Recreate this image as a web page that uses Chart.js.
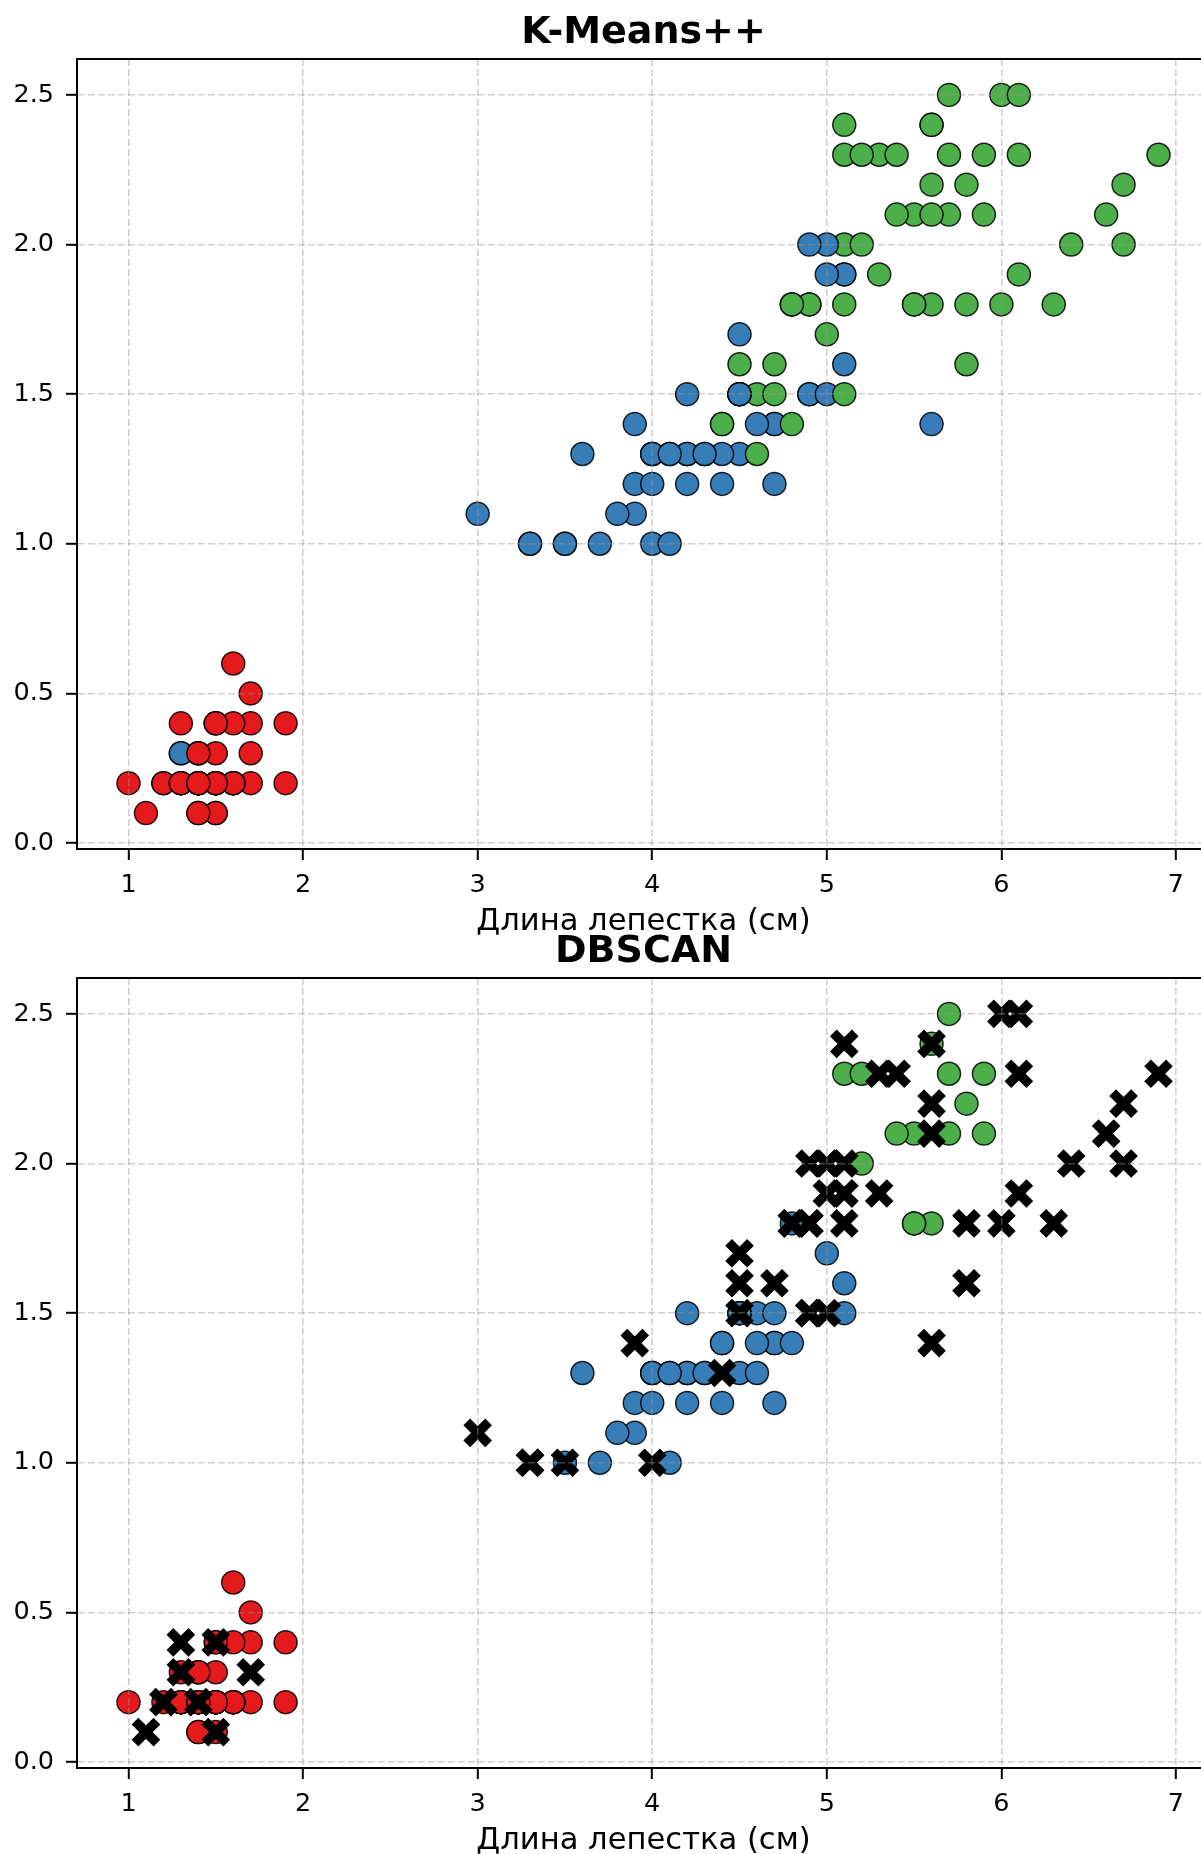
<!DOCTYPE html>
<html>
<head>
<meta charset="utf-8">
<script src="https://cdn.jsdelivr.net/npm/chart.js@4.4.1/dist/chart.umd.min.js"></script>
<style>
    html, body { margin: 0; padding: 0; background: #fff; overflow: hidden; width: 1201px; height: 1854px; }
    .panel { position: absolute; left: 0; width: 1260px; height: 935px; }
</style>
</head>
<body>
<div class="panel" style="top:0"><canvas id="kmeansChart" width="1260" height="935"></canvas></div>
<div class="panel" style="top:919px"><canvas id="dbscanChart" width="1260" height="935"></canvas></div>
<script>
// Iris petal measurements, in sample order
const petalLength = [
    1.4, 1.4, 1.3, 1.5, 1.4, 1.7, 1.4, 1.5, 1.4, 1.5,
    1.5, 1.6, 1.4, 1.1, 1.2, 1.5, 1.3, 1.4, 1.7, 1.5,
    1.7, 1.5, 1.0, 1.7, 1.9, 1.6, 1.6, 1.5, 1.4, 1.6,
    1.6, 1.5, 1.5, 1.4, 1.5, 1.2, 1.3, 1.4, 1.3, 1.5,
    1.3, 1.3, 1.3, 1.6, 1.9, 1.4, 1.6, 1.4, 1.5, 1.4,
    4.7, 4.5, 4.9, 4.0, 4.6, 4.5, 4.7, 3.3, 4.6, 3.9,
    3.5, 4.2, 4.0, 4.7, 3.6, 4.4, 4.5, 4.1, 4.5, 3.9,
    4.8, 4.0, 4.9, 4.7, 4.3, 4.4, 4.8, 5.0, 4.5, 3.5,
    3.8, 3.7, 3.9, 5.1, 4.5, 4.5, 4.7, 4.4, 4.1, 4.0,
    4.4, 4.6, 4.0, 3.3, 4.2, 4.2, 4.2, 4.3, 3.0, 4.1,
    6.0, 5.1, 5.9, 5.6, 5.8, 6.6, 4.5, 6.3, 5.8, 6.1,
    5.1, 5.3, 5.5, 5.0, 5.1, 5.3, 5.5, 6.7, 6.9, 5.0,
    5.7, 4.9, 6.7, 4.9, 5.7, 6.0, 4.8, 4.9, 5.6, 5.8,
    6.1, 6.4, 5.6, 5.1, 5.6, 6.1, 5.6, 5.5, 4.8, 5.4,
    5.6, 5.1, 5.1, 5.9, 5.7, 5.2, 5.0, 5.2, 5.4, 5.1
];
const petalWidth = [
    0.2, 0.2, 0.2, 0.2, 0.2, 0.4, 0.3, 0.2, 0.2, 0.1,
    0.2, 0.2, 0.1, 0.1, 0.2, 0.4, 0.4, 0.3, 0.3, 0.3,
    0.2, 0.4, 0.2, 0.5, 0.2, 0.2, 0.4, 0.2, 0.2, 0.2,
    0.2, 0.4, 0.1, 0.2, 0.2, 0.2, 0.2, 0.1, 0.2, 0.2,
    0.3, 0.3, 0.2, 0.6, 0.4, 0.3, 0.2, 0.2, 0.2, 0.2,
    1.4, 1.5, 1.5, 1.3, 1.5, 1.3, 1.6, 1.0, 1.3, 1.4,
    1.0, 1.5, 1.0, 1.4, 1.3, 1.4, 1.5, 1.0, 1.5, 1.1,
    1.8, 1.3, 1.5, 1.2, 1.3, 1.4, 1.4, 1.7, 1.5, 1.0,
    1.1, 1.0, 1.2, 1.6, 1.5, 1.6, 1.5, 1.3, 1.3, 1.3,
    1.2, 1.4, 1.2, 1.0, 1.3, 1.2, 1.3, 1.3, 1.1, 1.3,
    2.5, 1.9, 2.1, 1.8, 2.2, 2.1, 1.7, 1.8, 1.8, 2.5,
    2.0, 1.9, 2.1, 2.0, 2.4, 2.3, 1.8, 2.2, 2.3, 1.5,
    2.3, 2.0, 2.0, 1.8, 2.1, 1.8, 1.8, 1.8, 2.1, 1.6,
    1.9, 2.0, 2.2, 1.5, 1.4, 2.3, 2.4, 1.8, 1.8, 2.1,
    2.4, 2.3, 1.9, 2.3, 2.5, 2.3, 1.9, 2.0, 2.3, 1.8
];
// cluster ids: 0 red, 1 blue, 2 green, -1 noise
const kmeansLabels = [
    0, 0, 0, 0, 0, 0, 0, 0, 0, 0,
    0, 0, 0, 0, 0, 0, 0, 0, 0, 0,
    0, 0, 0, 0, 0, 0, 0, 0, 0, 0,
    0, 0, 0, 0, 0, 0, 0, 0, 0, 0,
    0, 1, 0, 0, 0, 0, 0, 0, 0, 0,
    1, 1, 1, 1, 2, 1, 2, 1, 2, 1,
    1, 1, 1, 1, 1, 2, 1, 1, 1, 1,
    2, 1, 1, 1, 1, 2, 2, 2, 1, 1,
    1, 1, 1, 1, 1, 2, 2, 1, 1, 1,
    1, 1, 1, 1, 1, 1, 1, 1, 1, 1,
    2, 1, 2, 2, 2, 2, 1, 2, 2, 2,
    2, 2, 2, 1, 2, 2, 2, 2, 2, 1,
    2, 1, 2, 2, 2, 2, 2, 2, 2, 2,
    2, 2, 2, 2, 1, 2, 2, 2, 2, 2,
    2, 2, 1, 2, 2, 2, 1, 2, 2, 2
];
const dbscanLabels = [
    0, 0, 0, 0, 0, 0, 0, 0, 0, 0,
    0, 0, 0, -1, -1, -1, -1, 0, -1, 0,
    0, 0, 0, 0, 0, 0, 0, 0, 0, 0,
    0, 0, -1, -1, 0, 0, 0, 0, 0, 0,
    0, -1, 0, 0, 0, 0, 0, 0, 0, 0,
    1, 1, -1, 1, 1, 1, -1, -1, 1, -1,
    -1, 1, -1, 1, 1, 1, 1, 1, 1, 1,
    1, 1, -1, 1, 1, 1, 1, 1, 1, 1,
    1, 1, 1, 1, -1, -1, 1, -1, 1, 1,
    1, 1, 1, -1, 1, 1, 1, 1, -1, 1,
    -1, -1, 2, 2, 2, -1, -1, -1, -1, -1,
    -1, -1, 2, -1, -1, -1, 2, -1, -1, -1,
    2, -1, -1, -1, 2, -1, -1, -1, -1, -1,
    -1, -1, -1, 1, -1, -1, 2, 2, -1, 2,
    -1, 2, -1, 2, 2, 2, -1, 2, -1, -1
];
const xTickValues = [1, 2, 3, 4, 5, 6, 7];
const yTickValues = [0.0, 0.5, 1.0, 1.5, 2.0, 2.5];
const xAxisTitle = 'Длина лепестка (см)';

const clusterColors = { 0: '#e41a1c', 1: '#377eb8', 2: '#4daf4a' };
const FONT = 'DejaVu Sans';

function pointsFor(labels, keep) {
    const out = [];
    labels.forEach((lab, i) => {
        if (keep(lab)) out.push({ x: petalLength[i], y: petalWidth[i], cluster: lab });
    });
    return out;
}

function clusterDataset(labels) {
    return {
        data: pointsFor(labels, lab => lab >= 0),
        backgroundColor: ctx => clusterColors[ctx.raw.cluster],
        borderColor: 'rgba(0, 0, 0, 0.85)',
        borderWidth: 1.5,
        pointRadius: 11.5,
        pointHoverRadius: 11.5,
        order: 1
    };
}

// axes box: top and right spines (Chart.js only draws the axis lines)
const frame = {
    id: 'frame',
    afterDraw(chart) {
        const { ctx, chartArea: a } = chart;
        ctx.save();
        ctx.strokeStyle = '#000';
        ctx.lineWidth = 2;
        ctx.beginPath();
        ctx.moveTo(a.left, a.top);
        ctx.lineTo(a.right, a.top);
        ctx.lineTo(a.right, a.bottom);
        ctx.stroke();
        ctx.restore();
    }
};

function gridOpts() {
    return {
        color: 'rgba(150, 150, 150, 0.45)',
        lineWidth: 1.6,
        tickLength: 11,
        tickColor: '#000',
        tickWidth: 2,
        tickBorderDash: [],
        z: 1
    };
}

// in v4 border.dash sets the dash of the grid lines
function borderOpts() {
    return { display: true, color: '#000', width: 2, dash: [7, 3], z: 2 };
}

function makeOptions(title) {
    return {
        responsive: false,
        animation: false,
        devicePixelRatio: 1,
        layout: { padding: { left: 0, right: 50, top: 0, bottom: 0 } },
        plugins: {
            legend: { display: false },
            tooltip: { enabled: false },
            title: {
                display: true,
                text: title,
                fullSize: false,
                color: '#000',
                font: { family: FONT, size: 38, weight: 'bold', lineHeight: 1.2 },
                padding: { top: 10, bottom: 3.4 }
            }
        },
        scales: {
            x: {
                type: 'linear',
                position: 'bottom',
                min: 0.705,
                max: 7.195,
                afterBuildTicks: s => { s.ticks = xTickValues.map(v => ({ value: v })); },
                afterFit: s => { s.height = 86; },
                ticks: {
                    color: '#000',
                    padding: 10,
                    font: { family: FONT, size: 25.5 },
                    callback: v => String(v)
                },
                grid: gridOpts(),
                border: borderOpts(),
                title: {
                    display: true,
                    text: xAxisTitle,
                    color: '#000',
                    font: { family: FONT, size: 30.6, lineHeight: 0.8 },
                    padding: { top: 0, bottom: 0.5 }
                }
            },
            y: {
                type: 'linear',
                position: 'left',
                min: -0.02,
                max: 2.62,
                afterBuildTicks: s => { s.ticks = yTickValues.map(v => ({ value: v })); },
                afterFit: s => { s.width = 77; },
                ticks: {
                    color: '#000',
                    padding: 12,
                    font: { family: FONT, size: 25.5 },
                    callback: v => Number(v).toFixed(1)
                },
                grid: gridOpts(),
                border: borderOpts()
            }
        }
    };
}

// K-Means++
new Chart(document.getElementById('kmeansChart').getContext('2d'), {
    type: 'scatter',
    data: { datasets: [clusterDataset(kmeansLabels)] },
    options: makeOptions('K-Means++'),
    plugins: [frame]
});

// DBSCAN: noise drawn as black crosses above the clusters
new Chart(document.getElementById('dbscanChart').getContext('2d'), {
    type: 'scatter',
    data: {
        datasets: [
            {
                data: pointsFor(dbscanLabels, lab => lab < 0),
                pointStyle: 'crossRot',
                borderColor: '#000',
                backgroundColor: '#000',
                borderWidth: 9.5,
                pointRadius: 15.5,
                pointHoverRadius: 15.5,
                order: 0
            },
            clusterDataset(dbscanLabels)
        ]
    },
    options: makeOptions('DBSCAN'),
    plugins: [frame]
});
</script>
</body>
</html>
